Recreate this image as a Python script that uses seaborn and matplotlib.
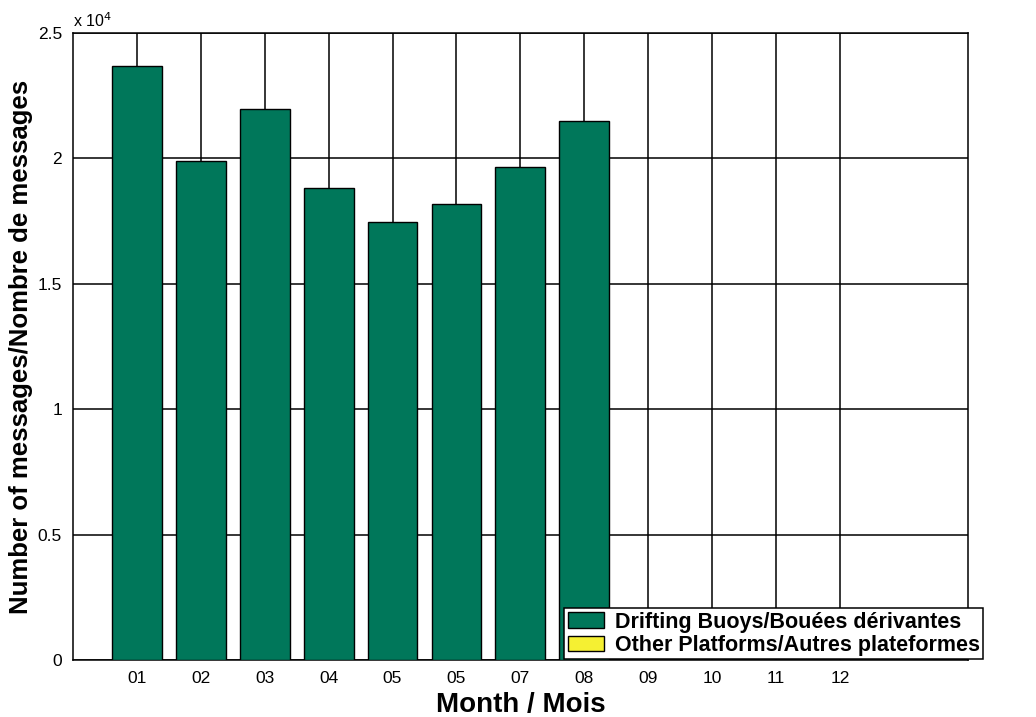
import matplotlib
matplotlib.use("Agg")
import matplotlib.pyplot as plt
from matplotlib.patches import Patch
from matplotlib.ticker import FuncFormatter
import seaborn as sns
import pandas as pd

# monthly message counts
months = [1, 2, 3, 4, 5, 6, 7, 8]
drifting_buoys = [23700, 19900, 21950, 18820, 17480, 18180, 19660, 21500]
other_platforms = [0, 0, 0, 0, 0, 0, 0, 0]
tick_months = list(range(1, 13))
tick_labels = ["01", "02", "03", "04", "05", "05", "07", "08", "09", "10", "11", "12"]
legend_labels = ["Drifting Buoys/Bouées dérivantes", "Other Platforms/Autres plateformes"]

df = pd.DataFrame({"month": months, "drifting": drifting_buoys, "other": other_platforms})

sns.set_style("white")
plt.rcParams["font.family"] = ["Liberation Sans", "DejaVu Sans"]
plt.rcParams["text.color"] = "black"
plt.rcParams["axes.labelcolor"] = "black"
plt.rcParams["xtick.color"] = "black"
plt.rcParams["ytick.color"] = "black"

fig = plt.figure(figsize=(10.36, 7.17), dpi=100)
ax = fig.add_axes([0.0705, 0.0795, 0.8635, 0.8745])

green = "#00775A"
yellow = "#F5F032"

sns.barplot(data=df, x="month", y="drifting", native_scale=True, width=0.78,
            color=green, edgecolor="black", linewidth=1, saturation=1, ax=ax, zorder=3)
sns.barplot(data=df, x="month", y="other", native_scale=True, width=0.78,
            color=yellow, linewidth=0, saturation=1, ax=ax, zorder=3)

ax.set_xlim(0, 14)
ax.set_ylim(0, 25000)
ax.set_xticks(tick_months)
ax.set_xticklabels(tick_labels)
ax.set_yticks([0, 5000, 10000, 15000, 20000, 25000])
ax.yaxis.set_major_formatter(FuncFormatter(lambda v, p: f"{v / 1e4:g}"))
ax.tick_params(axis="both", length=0, labelsize=12.5, pad=8)

ax.grid(True, color="black", linewidth=1.1, zorder=0)
ax.set_axisbelow(True)
for s in ax.spines.values():
    s.set_visible(True)
    s.set_color("black")
    s.set_linewidth(1.1)

ax.text(0.0, 1.005, "x 10$^4$", transform=ax.transAxes, fontsize=11.5, va="bottom", ha="left")

ax.set_xlabel("Month / Mois", fontsize=20, fontweight="bold", labelpad=4)
ax.set_ylabel("Number of messages/Nombre de messages", fontsize=18.5, fontweight="bold")
ax.yaxis.set_label_coords(-0.045, 0.5)

handles = [Patch(facecolor=green, edgecolor="black"), Patch(facecolor=yellow, edgecolor="black")]
leg = ax.legend(handles, legend_labels, loc="lower left", bbox_to_anchor=(0.548, 0.0),
                fontsize=15.5, frameon=True, fancybox=False, framealpha=1, edgecolor="black",
                handlelength=1.7, handletextpad=0.5, borderpad=0.15, labelspacing=0.1,
                borderaxespad=0.05)
leg.get_frame().set_linewidth(1.1)
for t in leg.get_texts():
    t.set_fontweight("bold")

fig.savefig("out.png", dpi=100)
